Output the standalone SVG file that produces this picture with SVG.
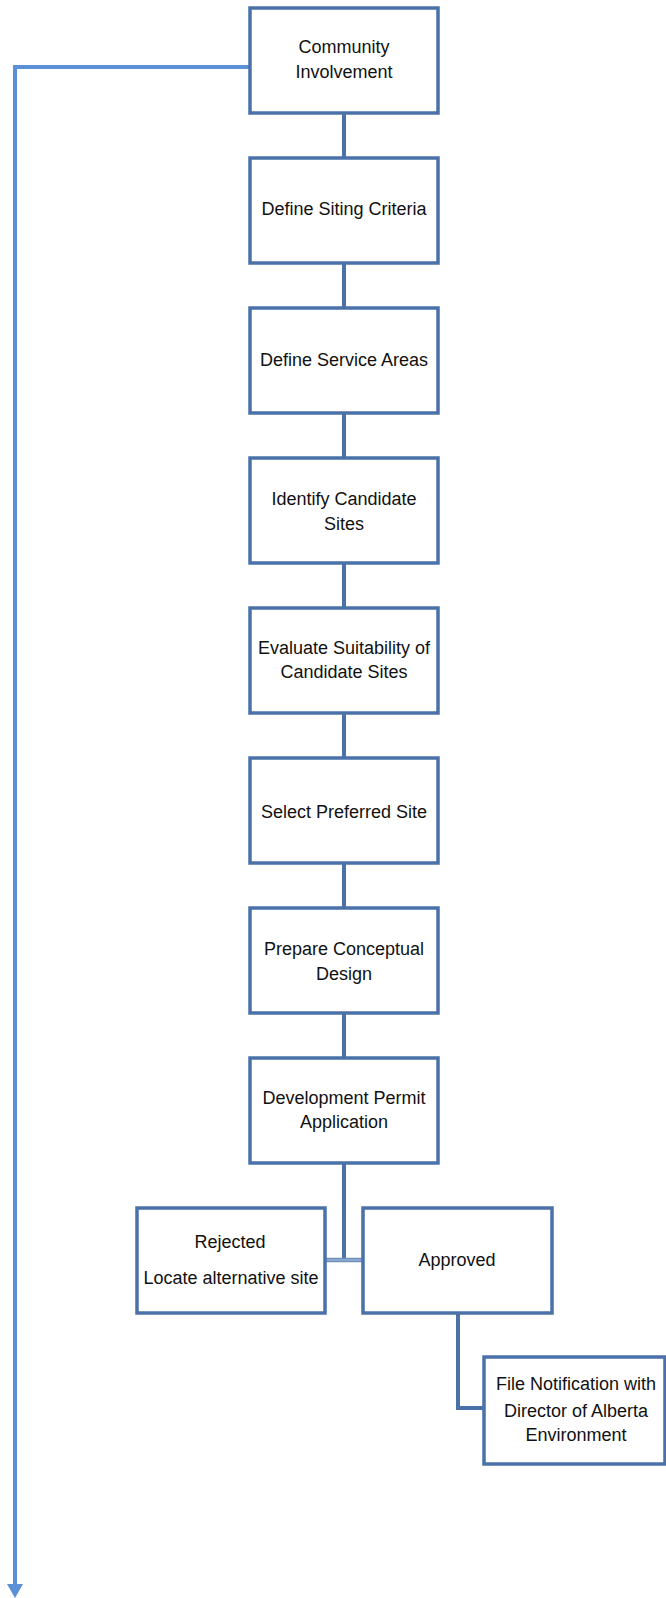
<svg xmlns="http://www.w3.org/2000/svg" width="666" height="1598" viewBox="0 0 666 1598">
<style>
.box{fill:#fff;stroke:#4a72a8;stroke-width:3.5}
.ln{stroke:#4a72a8;stroke-width:4;fill:none}
.t{font-family:"Liberation Sans",Arial,sans-serif;font-size:18px;fill:#111;text-anchor:middle}
</style>
<defs>
<marker id="ah" markerWidth="14" markerHeight="16" refX="0" refY="8" orient="auto" markerUnits="userSpaceOnUse" viewBox="0 0 14 16">
<path d="M0,0 L14,8 L0,16 Z" fill="#5b8fd6"/>
</marker>
</defs>
<g id="connectors">
<path d="M250,67 H15 V1584" fill="none" stroke="#5b8fd6" stroke-width="4" marker-end="url(#ah)"/>
<path class="ln" d="M344,113 V157 M344,263 V307 M344,413 V457 M344,563 V607 M344,713 V757 M344,863 V907 M344,1013 V1057 M344,1163 V1260"/>
<path d="M325,1260 H363" stroke="#6f8fbf" stroke-width="4.5"/>
<path d="M325,1260 H363" stroke="#a9bedc" stroke-width="1.2"/>
<path class="ln" d="M458,1313 V1408 H484"/>
</g>
<g id="n1"><rect class="box" x="250" y="8" width="188" height="105"/><text class="t" x="344" y="53">Community</text><text class="t" x="344" y="78">Involvement</text></g>
<g id="n2"><rect class="box" x="250" y="158" width="188" height="105"/><text class="t" x="344" y="215">Define Siting Criteria</text></g>
<g id="n3"><rect class="box" x="250" y="308" width="188" height="105"/><text class="t" x="344" y="366">Define Service Areas</text></g>
<g id="n4"><rect class="box" x="250" y="458" width="188" height="105"/><text class="t" x="344" y="505">Identify Candidate</text><text class="t" x="344" y="530">Sites</text></g>
<g id="n5"><rect class="box" x="250" y="608" width="188" height="105"/><text class="t" x="344" y="654">Evaluate Suitability of</text><text class="t" x="344" y="678">Candidate Sites</text></g>
<g id="n6"><rect class="box" x="250" y="758" width="188" height="105"/><text class="t" x="344" y="818">Select Preferred Site</text></g>
<g id="n7"><rect class="box" x="250" y="908" width="188" height="105"/><text class="t" x="344" y="955">Prepare Conceptual</text><text class="t" x="344" y="980">Design</text></g>
<g id="n8"><rect class="box" x="250" y="1058" width="188" height="105"/><text class="t" x="344" y="1104">Development Permit</text><text class="t" x="344" y="1128">Application</text></g>
<g id="n9"><rect class="box" x="137" y="1208" width="188" height="105"/><text class="t" x="230" y="1248">Rejected</text><text class="t" x="231" y="1284">Locate alternative site</text></g>
<g id="n10"><rect class="box" x="363" y="1208" width="189" height="105"/><text class="t" x="457" y="1266">Approved</text></g>
<g id="n11"><rect class="box" x="484" y="1357" width="181" height="107"/><text class="t" x="576" y="1390">File Notification with</text><text class="t" x="576" y="1417">Director of Alberta</text><text class="t" x="576" y="1441">Environment</text></g>
</svg>
